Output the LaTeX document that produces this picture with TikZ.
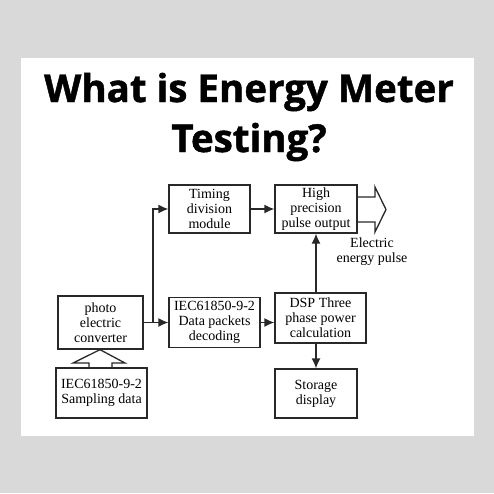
\documentclass[tikz,border=0pt]{standalone}
\usepackage{fontspec}
\setmainfont{Liberation Serif}
\newfontfamily\titlefont{Open Sans}[BoldFeatures={FakeBold=1.2}]
\usepackage{tikz}
\usetikzlibrary{arrows.meta,positioning,calc}
\usepackage{xcolor}
\definecolor{PanelGray}{RGB}{217,217,217}
\definecolor{LineGray}{RGB}{40,40,40}

\begin{document}
\begin{tikzpicture}[
  x=1pt,y=-1pt,
  box/.style={draw=LineGray,line width=1.3pt,align=center,inner sep=0pt,
              font=\fontsize{14}{15}\selectfont},
  arr/.style={-{Latex[length=10pt,width=9pt]},line width=1.3pt,LineGray},
]
\useasboundingbox (0,0) rectangle (494,493);
\fill[PanelGray] (0,0) rectangle (494,493);
\fill[white] (21,58) rectangle (474,436);
% title
\node[font=\titlefont\bfseries\fontsize{38.5}{50}\selectfont,align=center,anchor=base]
  (title) at (249,152) {What is Energy Meter\\Testing?};
% blocks
\node[box,minimum width=81pt,minimum height=48pt] (timing) at (209.5,209)
  {Timing\\division\\module};
\node[box,minimum width=82pt,minimum height=48pt] (hpo) at (316,209)
  {High\\precision\\pulse output};
\node[box,minimum width=85pt,minimum height=53pt] (photo) at (100.5,322.5)
  {photo\\electric\\converter};
\node[box,minimum width=91pt,minimum height=50pt] (decode) at (214.5,322.5)
  {IEC61850-9-2\\Data packets\\decoding};
\node[box,minimum width=91pt,minimum height=50pt] (dsp) at (320.5,318)
  {DSP Three\\phase power\\calculation};
\node[box,minimum width=91pt,minimum height=50pt] (sampling) at (101.5,393)
  {IEC61850-9-2\\Sampling data};
\node[box,minimum width=82pt,minimum height=49pt] (storage) at (316,393.5)
  {Storage\\display};
\node[align=center,font=\fontsize{14}{15}\selectfont] (pulse) at (372,252)
  {Electric\\energy pulse};
\coordinate (split) at (153,322.5);
% connectors
\draw[arr] (photo.east) -- (decode.west);
\draw[arr] (split) |- (timing.west);
\draw[arr] (timing.east) -- (hpo.west);
\draw[arr] (decode.east) -- (decode.east -| dsp.west);
\draw[arr] (hpo.south |- dsp.north) -- (hpo.south);
\draw[arr] (storage.north |- dsp.south) -- (storage.north);
% hollow arrows
\draw[LineGray,line width=1.3pt,line join=miter]
  (hpo.east |- 0,197) -- (375,197) -- (375,187) -- (386,209.5)
  -- (375,232) -- (375,222) -- (hpo.east |- 0,222);
\draw[LineGray,line width=1.3pt,line join=miter]
  (89,0 |- sampling.north) -- (89,363) -- (73,363) -- (100,0 |- photo.south)
  -- (125,363) -- (112,363) -- (112,0 |- sampling.north);
\end{tikzpicture}
\end{document}
